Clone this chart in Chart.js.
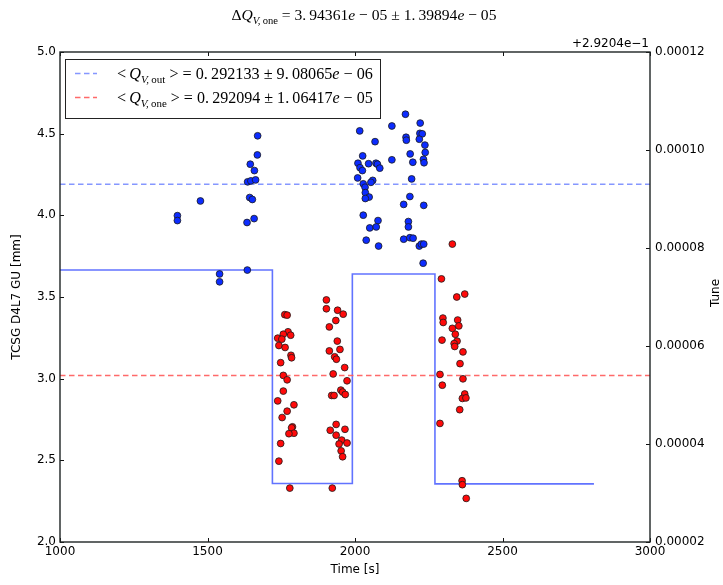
<!DOCTYPE html>
<html>
<head>
<meta charset="utf-8">
<script src="https://cdn.jsdelivr.net/npm/chart.js@4"></script>
<style>
  html, body { margin: 0; padding: 0; background: #fff; }
  #wrap { width: 723px; height: 585px; }
</style>
</head>
<body>
<div id="wrap"><canvas id="c" width="723" height="585"></canvas></div>
<script>
// Collimator jaw gap trace [mm] (stepped, value holds until next time)
const gapTimes  = [1000, 1720, 1991, 2271, 2810];
const gapValues = [3.665, 2.358, 3.641, 2.356, 2.356];

// Vertical tune relative to 0.29204, jaw retracted ("out")
const outTimes = [
  1398, 1398, 1476, 1541, 1541, 1635, 1634, 1658, 1643, 1652, 1636, 1647, 1663, 1659, 1645, 1669, 1670,
  2171, 2221, 2125, 2016, 2220, 2228, 2173, 2174, 2218, 2068, 2237, 2238, 2187, 2026, 2232, 2125,
  2196, 2234, 2010, 2046, 2071, 2076, 2017, 2025, 2084, 2009, 2192, 2060, 2054, 2028, 2034, 2035,
  2048, 2035, 2186, 2165, 2233, 2028, 2078, 2050, 2072, 2181, 2181, 2038, 2080, 2165, 2186, 2197,
  2218, 2225, 2233, 2231
];
const outTunes = [
  8.66e-5, 8.56e-5, 8.96e-5, 7.47e-5, 7.31e-5, 7.55e-5, 8.52e-5, 8.60e-5, 9.03e-5, 8.99e-5, 9.35e-5, 9.37e-5, 9.39e-5, 9.58e-5, 9.71e-5, 9.90e-5, 10.29e-5,
  10.73e-5, 10.55e-5, 10.49e-5, 10.39e-5, 10.34e-5, 10.33e-5, 10.26e-5, 10.20e-5, 10.22e-5, 10.17e-5, 10.10e-5, 9.95e-5, 9.92e-5, 9.88e-5, 9.81e-5, 9.80e-5,
  9.75e-5, 9.74e-5, 9.73e-5, 9.72e-5, 9.73e-5, 9.71e-5, 9.64e-5, 9.58e-5, 9.63e-5, 9.43e-5, 9.41e-5, 9.38e-5, 9.34e-5, 9.31e-5, 9.24e-5, 9.13e-5,
  9.04e-5, 9.01e-5, 9.05e-5, 8.89e-5, 8.87e-5, 8.67e-5, 8.56e-5, 8.41e-5, 8.43e-5, 8.54e-5, 8.43e-5, 8.16e-5, 8.04e-5, 8.18e-5, 8.21e-5, 8.20e-5,
  8.04e-5, 8.08e-5, 8.08e-5, 7.69e-5
];

// Vertical tune relative to 0.29204, one jaw in ("one")
const oneTimes = [
  1762, 1770, 1773, 1782, 1757, 1738, 1752, 1742, 1763, 1783, 1785, 1748, 1757, 1770, 1757, 1738,
  1793, 1770, 1753, 1788, 1785, 1793, 1776, 1748, 1742, 1779,
  1903, 1903, 1941, 1960, 1935, 1913, 1940, 1913, 1949, 1931, 1937, 1965, 1926, 1973, 1952, 1958,
  1967, 1921, 1929, 1936, 1916, 1966, 1936, 1955, 1973, 1946, 1953, 1958, 1923,
  2330, 2293, 2345, 2372, 2298, 2299, 2348, 2352, 2330, 2340, 2346, 2336, 2338, 2295, 2366, 2356,
  2288, 2366, 2296, 2372, 2364, 2376, 2355, 2288, 2363, 2364, 2377
];
const oneTunes = [
  6.64e-5, 6.63e-5, 6.29e-5, 6.22e-5, 6.24e-5, 6.16e-5, 6.14e-5, 6.01e-5, 5.97e-5, 5.81e-5, 5.76e-5, 5.66e-5, 5.40e-5, 5.31e-5, 5.08e-5, 4.88e-5,
  4.80e-5, 4.67e-5, 4.54e-5, 4.35e-5, 4.33e-5, 4.22e-5, 4.21e-5, 4.01e-5, 3.65e-5, 3.10e-5,
  6.94e-5, 6.76e-5, 6.73e-5, 6.65e-5, 6.52e-5, 6.39e-5, 6.10e-5, 5.90e-5, 5.93e-5, 5.78e-5, 5.73e-5, 5.56e-5, 5.43e-5, 5.29e-5, 5.10e-5, 5.06e-5,
  5.01e-5, 4.99e-5, 4.99e-5, 4.40e-5, 4.28e-5, 4.30e-5, 4.18e-5, 4.08e-5, 4.02e-5, 4.00e-5, 3.86e-5, 3.74e-5, 3.10e-5,
  8.08e-5, 7.37e-5, 7.00e-5, 7.06e-5, 6.57e-5, 6.48e-5, 6.53e-5, 6.41e-5, 6.36e-5, 6.24e-5, 6.10e-5, 6.05e-5, 5.99e-5, 6.12e-5, 5.88e-5, 5.64e-5,
  5.42e-5, 5.33e-5, 5.20e-5, 5.02e-5, 4.93e-5, 4.94e-5, 4.70e-5, 4.42e-5, 3.25e-5, 3.17e-5, 2.89e-5
];

// Mean tunes (0.292133 and 0.292094) relative to the offset
const meanOut = 9.3e-5;
const meanOne = 5.4e-5;
const xRange = [1000, 3000];

// Tick positions and labels
const xTicks    = [1000, 1500, 2000, 2500, 3000];
const gapTicks  = [2.0, 2.5, 3.0, 3.5, 4.0, 4.5, 5.0];
const tuneTicks = [2e-5, 4e-5, 6e-5, 8e-5, 10e-5, 12e-5];
const tuneOffsetLabel = '+2.9204e\u22121';
const xTitle = 'Time [s]';
const yTitle = 'TCSG D4L7 GU [mm]';
const y2Title = 'Tune';

const SANS  = '"DejaVu Sans", sans-serif';
const SERIF = '"Liberation Serif", "DejaVu Serif", serif';
const STEP_BLUE = 'rgba(80,100,255,0.9)';
const DASH_BLUE = 'rgba(120,140,255,0.9)';
const DASH_RED  = 'rgba(255,90,90,0.9)';
const DASH = [5.5, 3.5];

// Math-style labels: runs of roman / italic / subscript text
const TS = '\u2009';
const titleRuns = [
  {t: '\u0394'}, {t: 'Q', it: 1}, {t: 'V,', it: 1, sub: 1}, {t: TS + 'one', sub: 1},
  {t: ' = 3.' + TS + '94361'}, {t: 'e', it: 1}, {t: ' \u2212 05 \u00b1 1.' + TS + '39894'}, {t: 'e', it: 1}, {t: ' \u2212 05'}
];
const legendOutRuns = [
  {t: '<' + TS}, {t: 'Q', it: 1}, {t: 'V,', it: 1, sub: 1}, {t: TS + 'out', sub: 1},
  {t: ' > = 0.' + TS + '292133 \u00b1 9.' + TS + '08065'}, {t: 'e', it: 1}, {t: ' \u2212 06'}
];
const legendOneRuns = [
  {t: '<' + TS}, {t: 'Q', it: 1}, {t: 'V,', it: 1, sub: 1}, {t: TS + 'one', sub: 1},
  {t: ' > = 0.' + TS + '292094 \u00b1 1.' + TS + '06417'}, {t: 'e', it: 1}, {t: ' \u2212 05'}
];

function runFont(r, size) {
  const sz = r.sub ? size * 0.68 : size;
  return (r.it ? 'italic ' : '') + sz.toFixed(2) + 'px ' + SERIF;
}
function drawRuns(ctx, runs, x, y, targetW, align) {
  const base = 20;
  let w = 0;
  for (const r of runs) { ctx.font = runFont(r, base); w += ctx.measureText(r.t).width; }
  const size = base * targetW / w;
  let cx = align === 'center' ? x - targetW / 2 : x;
  ctx.textAlign = 'left';
  ctx.textBaseline = 'alphabetic';
  ctx.fillStyle = '#000';
  for (const r of runs) {
    ctx.font = runFont(r, size);
    ctx.fillText(r.t, cx, y + (r.sub ? size * 0.24 : 0));
    cx += ctx.measureText(r.t).width;
  }
}

const pairs = (xs, ys) => xs.map((v, i) => ({x: v, y: ys[i]}));

const decorations = {
  id: 'decorations',
  afterDraw(chart) {
    const ctx = chart.ctx;
    const a = chart.chartArea;
    const sx = chart.scales.x, sy = chart.scales.y, sy2 = chart.scales.y2;
    ctx.save();

    // inward tick marks
    ctx.strokeStyle = '#111';
    ctx.lineWidth = 1;
    ctx.beginPath();
    for (const v of xTicks) {
      const px = Math.round(sx.getPixelForValue(v)) + 0.5;
      ctx.moveTo(px, a.bottom); ctx.lineTo(px, a.bottom - 4);
      ctx.moveTo(px, a.top); ctx.lineTo(px, a.top + 4);
    }
    for (const v of gapTicks) {
      const py = Math.round(sy.getPixelForValue(v)) + 0.5;
      ctx.moveTo(a.left, py); ctx.lineTo(a.left + 4, py);
    }
    for (const v of tuneTicks) {
      const py = Math.round(sy2.getPixelForValue(v)) + 0.5;
      ctx.moveTo(a.right, py); ctx.lineTo(a.right - 4, py);
    }
    ctx.stroke();

    // axes frame
    ctx.strokeStyle = '#1e2424';
    ctx.lineWidth = 1.4;
    ctx.strokeRect(a.left, a.top, a.right - a.left, a.bottom - a.top);

    // legend box
    const lx = 65, ly = 59, lw = 315, lh = 59;
    ctx.fillStyle = '#fff';
    ctx.fillRect(lx, ly, lw, lh);
    ctx.strokeStyle = '#222';
    ctx.lineWidth = 1;
    ctx.strokeRect(lx + 0.5, ly + 0.5, lw, lh);
    ctx.setLineDash(DASH);
    ctx.lineWidth = 1.5;
    ctx.strokeStyle = DASH_BLUE;
    ctx.beginPath(); ctx.moveTo(75, 73.5); ctx.lineTo(97, 73.5); ctx.stroke();
    ctx.strokeStyle = DASH_RED;
    ctx.beginPath(); ctx.moveTo(75, 97.5); ctx.lineTo(97, 97.5); ctx.stroke();
    ctx.setLineDash([]);
    drawRuns(ctx, legendOutRuns, 117, 79, 256, 'left');
    drawRuns(ctx, legendOneRuns, 117, 103, 256, 'left');

    // title
    drawRuns(ctx, titleRuns, 364, 20, 265, 'center');

    // offset of the tune axis
    ctx.font = '12px ' + SANS;
    ctx.fillStyle = '#000';
    ctx.textAlign = 'right';
    ctx.textBaseline = 'alphabetic';
    ctx.fillText(tuneOffsetLabel, a.right - 1, a.top - 5);

    // axis titles
    ctx.textAlign = 'center';
    ctx.textBaseline = 'middle';
    ctx.fillText(xTitle, (a.left + a.right) / 2, 570);
    ctx.save();
    ctx.translate(17, (a.top + a.bottom) / 2);
    ctx.rotate(-Math.PI / 2);
    ctx.fillText(yTitle, 0, 0);
    ctx.restore();
    ctx.save();
    ctx.translate(716, (a.top + a.bottom) / 2 - 4);
    ctx.rotate(-Math.PI / 2);
    ctx.fillText(y2Title, 0, 0);
    ctx.restore();

    ctx.restore();
  }
};

const tickFont = {family: SANS, size: 12};

new Chart(document.getElementById('c'), {
  type: 'scatter',
  data: {
    datasets: [
      {
        label: 'one', data: pairs(oneTimes, oneTunes), yAxisID: 'y2',
        backgroundColor: '#ff0a0a', borderColor: '#1a1a1a', borderWidth: 0.8,
        pointRadius: 3.4, order: 0
      },
      {
        label: 'out', data: pairs(outTimes, outTunes), yAxisID: 'y2',
        backgroundColor: '#0c2cff', borderColor: '#1a1a1a', borderWidth: 0.8,
        pointRadius: 3.4, order: 1
      },
      {
        type: 'line', label: 'mean out', yAxisID: 'y2', showLine: true,
        data: [{x: xRange[0], y: meanOut}, {x: xRange[1], y: meanOut}],
        borderColor: DASH_BLUE, borderDash: DASH, borderWidth: 1.5, pointRadius: 0, order: 2
      },
      {
        type: 'line', label: 'mean one', yAxisID: 'y2', showLine: true,
        data: [{x: xRange[0], y: meanOne}, {x: xRange[1], y: meanOne}],
        borderColor: DASH_RED, borderDash: DASH, borderWidth: 1.5, pointRadius: 0, order: 3
      },
      {
        type: 'line', label: 'gap', yAxisID: 'y', showLine: true, stepped: 'before',
        data: pairs(gapTimes, gapValues),
        borderColor: STEP_BLUE, borderWidth: 1.6, pointRadius: 0, order: 4
      }
    ]
  },
  options: {
    responsive: false,
    animation: false,
    devicePixelRatio: 1,
    layout: {padding: {top: 52, left: 0, right: 0, bottom: 0}},
    plugins: {legend: {display: false}, tooltip: {enabled: false}, title: {display: false}},
    scales: {
      x: {
        type: 'linear', min: xRange[0], max: xRange[1],
        afterBuildTicks: s => { s.ticks = xTicks.map(v => ({value: v})); },
        afterFit: s => { s.height = 43; },
        grid: {display: false, drawTicks: false},
        border: {display: false},
        ticks: {font: tickFont, color: '#000', padding: 3, autoSkip: false, maxRotation: 0,
                callback: v => String(v)}
      },
      y: {
        type: 'linear', position: 'left', min: gapTicks[0], max: gapTicks[gapTicks.length - 1],
        afterBuildTicks: s => { s.ticks = gapTicks.map(v => ({value: v})); },
        afterFit: s => { s.width = 60; },
        grid: {display: false, drawTicks: false},
        border: {display: false},
        ticks: {font: tickFont, color: '#000', padding: 4, autoSkip: false,
                callback: v => Number(v).toFixed(1)}
      },
      y2: {
        type: 'linear', position: 'right', min: tuneTicks[0], max: tuneTicks[tuneTicks.length - 1],
        afterBuildTicks: s => { s.ticks = tuneTicks.map(v => ({value: v})); },
        afterFit: s => { s.width = 73; },
        grid: {display: false, drawTicks: false},
        border: {display: false},
        ticks: {font: tickFont, color: '#000', padding: 5, autoSkip: false,
                callback: v => Number(v).toFixed(5)}
      }
    }
  },
  plugins: [decorations]
});
</script>
</body>
</html>
